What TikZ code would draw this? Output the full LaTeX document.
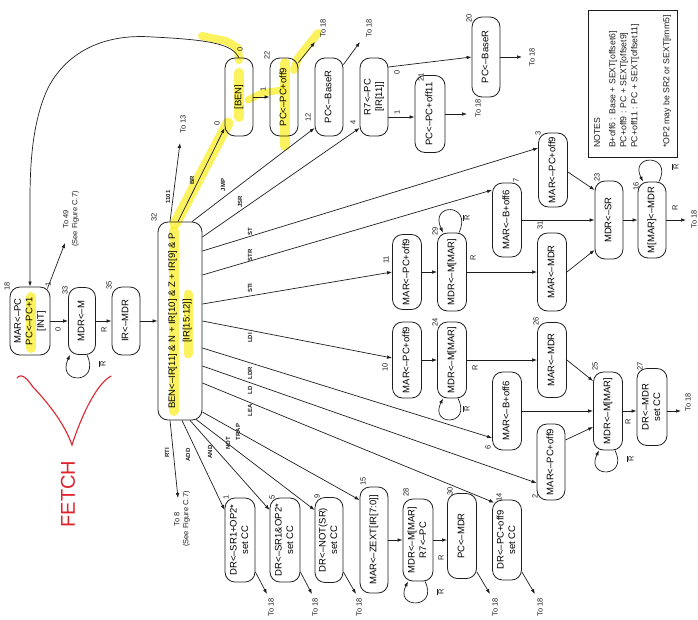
\documentclass[tikz,border=0pt]{standalone}
\usepackage{fontspec}
\setmainfont{Liberation Sans}
\usepackage{graphicx}
\usetikzlibrary{arrows.meta}
\definecolor{hilite}{RGB}{250,238,40}
\definecolor{ink}{RGB}{30,30,30}
\definecolor{pen}{RGB}{225,35,45}
% upright state text, turned a quarter turn
\newcommand{\vtxt}[1]{\rotatebox{90}{\begin{tabular}{@{}c@{}}#1\end{tabular}}}
\newcommand{\rbar}{$\overline{\mbox{R}}$}

\begin{document}
\begin{tikzpicture}[x=1pt,y=-1pt,
  st/.style={draw=ink, line width=0.8pt, rounded corners=10pt, inner sep=0pt,
             font=\fontsize{9.5}{11.5}\selectfont},
  arr/.style={draw=ink, line width=0.7pt, -{Latex[length=5pt,width=3.6pt]}},
  lbl/.style={rotate=90, inner sep=0pt, font=\fontsize{7.5}{9}\selectfont, text=ink},
  op/.style={rotate=90, inner sep=0pt, font=\fontsize{6}{6}\bfseries\selectfont, text=ink},
  note/.style={rotate=90, inner sep=0pt, font=\fontsize{8.7}{10}\selectfont, text=ink},
  hl/.style={draw=hilite, draw opacity=0.75, line width=10pt, line cap=round, line join=round},
  ]
\useasboundingbox (0,0) rectangle (698,619);

% ---------------- highlighter marks ----------------
\path[hl] (31,297) -- (31,348);
\path[hl] (174,231) -- (174,411);
\path[hl, line width=9pt] (188,294) -- (188,354);
\path[hl] (239,73) -- (239,117);
\path[hl, line width=8pt] (202,36) -- (226,41) -- (238,48) -- (239,60);
\path[hl, line width=11pt] (175,224) -- (228,123);
\path[hl, line width=7pt] (248,100) -- (262,93) -- (282,90);
\path[hl] (285,63) -- (285,146);
\path[hl, line width=8pt] (294,70) -- (298,58) -- (318,33);

% ---------------- handwritten FETCH bracket ----------------
\draw[pen, line width=1.1pt, line cap=round]
  (17,378) .. controls (22,372) and (28,380) .. (33,387)
  .. controls (50,405) and (65,425) .. (72,445)
  .. controls (80,420) and (95,385) .. (111,376);
\node[rotate=90, inner sep=0pt, text=pen, font=\fontsize{20}{20}\selectfont] (fetch) at (68,494) {FETCH};

% ---------------- states ----------------
\node[st, minimum width=40, minimum height=68] (s18) at (30,321) {\vtxt{MAR<–PC\\PC<–PC+1\\{}[INT]}};
\node[st, minimum width=27, minimum height=67] (s33) at (82,321) {\vtxt{MDR<–M}};
\node[st, minimum width=28, minimum height=68] (s35) at (126,321) {\vtxt{IR<–MDR}};
\node[st, minimum width=44, minimum height=198] (s32) at (180,321)
  {\vtxt{BEN<–IR[11] \& N + IR[10] \& Z + IR[9] \& P\\[3pt]{}[IR[15:12]]}};

\node[st, minimum width=28, minimum height=78] (sben) at (239,97) {\vtxt{{}[BEN]}};
\node[st, minimum width=28, minimum height=78] (s22) at (284,97) {\vtxt{PC<–PC+off9}};
\node[st, minimum width=28, minimum height=78] (s12) at (329,97) {\vtxt{PC<–BaseR}};
\node[st, minimum width=28, minimum height=78] (s4) at (374,97) {\vtxt{R7<–PC\\{}[IR[11]]}};
\node[st, minimum width=30, minimum height=77] (s21) at (430,114) {\vtxt{PC<–PC+off11}};
\node[st, minimum width=28, minimum height=80] (s20) at (486,57) {\vtxt{PC<–BaseR}};

\node[st, minimum width=29, minimum height=74] (s3) at (553,170) {\vtxt{MAR<–PC+off9}};
\node[st, minimum width=29, minimum height=74] (s7) at (507,220) {\vtxt{MAR<–B+off6}};
\node[st, minimum width=28, minimum height=78] (s23) at (609,220) {\vtxt{MDR<–SR}};
\node[st, minimum width=28, minimum height=76] (s16) at (652,220) {\vtxt{M[MAR]<–MDR}};
\node[st, minimum width=29, minimum height=75] (s11) at (407,272) {\vtxt{MAR<–PC+off9}};
\node[st, minimum width=29, minimum height=78] (s29) at (452,272) {\vtxt{MDR<–M[MAR]}};
\node[st, minimum width=29, minimum height=78] (s31) at (552,272) {\vtxt{MAR<–MDR}};

\node[st, minimum width=29, minimum height=76] (s10) at (407,360) {\vtxt{MAR<–PC+off9}};
\node[st, minimum width=29, minimum height=76] (s24) at (452,360) {\vtxt{MDR<–M[MAR]}};
\node[st, minimum width=29, minimum height=75] (s26) at (552,360) {\vtxt{MAR<–MDR}};
\node[st, minimum width=29, minimum height=78] (s6) at (507,411) {\vtxt{MAR<–B+off6}};
\node[st, minimum width=28, minimum height=76] (s2) at (551,462) {\vtxt{MAR<–PC+off9}};
\node[st, minimum width=29, minimum height=78] (s25) at (608,411) {\vtxt{MDR<–M[MAR]}};
\node[st, minimum width=30, minimum height=77] (s27) at (652,407) {\vtxt{DR<–MDR\\set CC}};

\node[st, minimum width=30, minimum height=84] (s1) at (240,540) {\vtxt{DR<–SR1+OP2*\\set CC}};
\node[st, minimum width=30, minimum height=84] (s5) at (285,540) {\vtxt{DR<–SR1\&OP2*\\set CC}};
\node[st, minimum width=28, minimum height=85] (s9) at (329,540) {\vtxt{DR<–NOT(SR)\\set CC}};
\node[st, minimum width=28, minimum height=106] (s15) at (374,540) {\vtxt{MAR<–ZEXT[IR[7:0]]}};
\node[st, minimum width=30, minimum height=82] (s28) at (418,540) {\vtxt{MDR<–M[MAR]\\R7<–PC}};
\node[st, minimum width=29, minimum height=85] (s30) at (462,536) {\vtxt{PC<–MDR}};
\node[st, minimum width=29, minimum height=80] (s14) at (507,540) {\vtxt{DR<–PC+off9\\set CC}};

% ---------------- state numbers ----------------
\node[lbl] (n18) at (7,286) {18};
\node[lbl] (n33) at (65,290) {33};
\node[lbl] (n35) at (109,285) {35};
\node[lbl] (n32) at (154,217) {32};
\node[lbl] (n0) at (217,123) {0};
\node[lbl] (n22) at (267,55) {22};
\node[lbl] (n12) at (308,117) {12};
\node[lbl] (n4) at (353,122) {4};
\node[lbl] (n21) at (421,77) {21};
\node[lbl] (n20) at (469,18) {20};
\node[lbl] (n3) at (538,133) {3};
\node[lbl] (n23) at (597,177) {23};
\node[lbl] (n16) at (636,186) {16};
\node[lbl] (n7) at (516,180) {7};
\node[lbl] (n31) at (540,225) {31};
\node[lbl] (n11) at (386,260) {11};
\node[lbl] (n29) at (435,231) {29};
\node[lbl] (n10) at (385,367) {10};
\node[lbl] (n24) at (435,322) {24};
\node[lbl] (n26) at (536,321) {26};
\node[lbl] (n6) at (488,447) {6};
\node[lbl] (n2) at (535,496) {2};
\node[lbl] (n25) at (595,366) {25};
\node[lbl] (n27) at (640,366) {27};
\node[lbl] (n1) at (226,497) {1};
\node[lbl] (n5) at (272,497) {5};
\node[lbl] (n9) at (317,496) {9};
\node[lbl] (n15) at (363,481) {15};
\node[lbl] (n28) at (406,492) {28};
\node[lbl] (n30) at (450,491) {30};
\node[lbl] (n14) at (499,497) {14};

% ---------------- fetch path ----------------
\coordinate (t49) at (65,243);
\draw[arr] (s18.east) -- (s33.west);
\draw[arr] (s33.east) -- (s35.west);
\draw[arr] (s35.east) -- (s32.west);
\draw[arr] ([shift={(-3,2)}]s18.north east) -- (t49);
\draw[arr] (sben.north) .. controls (232,45) and (215,40) .. (153,37)
  .. controls (100,33) and (65,55) .. (48,88)
  .. controls (33,120) and (30,160) .. (30,200) -- (s18.north);
\draw[arr] ([xshift=5]s33.south) .. controls +(14,30) and +(-14,30) .. ([xshift=-12]s33.south);

\node[lbl] (e0a) at (58,329) {0};
\node[lbl] (e1a) at (48,284) {1};
\node[lbl] (eRa) at (104,330) {R};
\node[lbl] (eRb) at (102,364) {\rbar};
\node[lbl, align=center] (to49) at (71,219) {To 49\\(See Figure C.7)};

% ---------------- decode fan-out ----------------
\coordinate (t13) at (180,143);
\coordinate (t8) at (178,498);
\draw[arr] ([xshift=-10]s32.north) -- (t13);
\draw[arr] ([xshift=-2]s32.north) -- ([yshift=-31]sben.west);
\draw[arr] ([xshift=12]s32.north) -- ([yshift=-31]s12.west);
\draw[arr] ([yshift=84]s32.east) -- ([yshift=-31]s4.west);
\draw[arr] ([yshift=70]s32.east) -- ([yshift=22]s3.west);
\draw[arr] ([yshift=46]s32.east) -- ([yshift=30]s7.west);
\draw[arr] ([yshift=17]s32.east) -- (s11.west);
\draw[arr] (s32.east) -- ([yshift=2]s10.west);
\draw[arr] ([yshift=-27]s32.east) -- ([yshift=-27]s6.west);
\draw[arr] ([yshift=-45]s32.east) -- ([yshift=-21]s2.west);
\draw[arr] ([yshift=-62]s32.east) -- ([shift={(2,3)}]s14.north west);
\draw[arr] ([yshift=-91]s32.east) -- ([yshift=40]s15.west);
\draw[arr] ([shift={(16,-1)}]s32.south) -- ([yshift=30]s9.west);
\draw[arr] ([xshift=10]s32.south) -- ([yshift=30]s5.west);
\draw[arr] ([xshift=2]s32.south) -- ([yshift=30]s1.west);
\draw[arr] ([xshift=-10]s32.south) -- (t8);

\node[lbl] (to13) at (183,124) {To 13};
\node[lbl, align=center] (to8) at (182,519) {To 8\\(See Figure C.7)};
\node[op] (o1101) at (168,197) {1101};
\node[op] (oBR) at (192,180) {BR};
\node[op] (oJMP) at (223,185) {JMP};
\node[op] (oJSR) at (240,202) {JSR};
\node[op] (oST) at (250,232) {ST};
\node[op] (oSTR) at (250,255) {STR};
\node[op] (oSTI) at (250,288) {STI};
\node[op] (oLDI) at (250,338) {LDI};
\node[op] (oLDR) at (250,373) {LDR};
\node[op] (oLD) at (250,390) {LD};
\node[op] (oLEA) at (250,410) {LEA};
\node[op] (oTRAP) at (238,432) {TRAP};
\node[op] (oNOT) at (228,443) {NOT};
\node[op] (oAND) at (210,452) {AND};
\node[op] (oADD) at (188,455) {ADD};
\node[op] (oRTI) at (167,453) {RTI};

% ---------------- control-flow states ----------------
\coordinate (t22) at (315,42);
\coordinate (t12) at (360,42);
\coordinate (t21) at (467,114);
\coordinate (t20) at (522,57);
\draw[arr] (sben.east) -- (s22.west);
\draw[arr] ([yshift=-5]s22.north east) -- (t22);
\draw[arr] ([yshift=-7]s12.north east) -- (t12);
\draw[arr] ([yshift=-20]s4.east) -- ([yshift=-20]s4.east -| s21.west);
\draw[arr] ([yshift=30]s4.east) -- (s20.west);
\draw[arr] (s21.east) -- (t21);
\draw[arr] (s20.east) -- (t20);
\node[lbl] (e0b) at (240,49) {0};
\node[lbl] (e1b) at (263,89) {1};
\node[lbl] (e0c) at (397,72) {0};
\node[lbl] (e1c) at (397,112) {1};
\node[lbl] (to22) at (323,28) {To 18};
\node[lbl] (to12) at (369,28) {To 18};
\node[lbl] (to21) at (478,108) {To 18};
\node[lbl] (to20) at (532,57) {To 18};

% ---------------- stores ----------------
\coordinate (t16) at (686,220);
\draw[arr] ([yshift=-2]s3.east) -- ([yshift=30]s23.west);
\draw[arr] (s7.east) -- (s23.west);
\draw[arr] (s31.east) -- ([yshift=-30]s23.west);
\draw[arr] (s23.east) -- (s16.west);
\draw[arr] (s16.east) -- (t16);
\draw[arr] (s11.east) -- (s29.west);
\draw[arr] (s29.east) -- (s31.west);
\draw[arr] ([xshift=7]s29.north) .. controls +(14,-30) and +(-14,-30) .. ([xshift=-9]s29.north);
\draw[arr] ([xshift=7]s16.north) .. controls +(14,-28) and +(-14,-28) .. ([xshift=-9]s16.north);
\node[lbl] (eRc) at (473,258) {R};
\node[lbl] (eRd) at (466,218) {\rbar};
\node[lbl] (eRe) at (675,208) {R};
\node[lbl] (eRf) at (675,167) {\rbar};
\node[lbl] (to16) at (694,219) {To 18};

% ---------------- loads ----------------
\coordinate (t27) at (681,411);
\draw[arr] (s10.east) -- (s24.west);
\draw[arr] (s24.east) -- (s26.west);
\draw[arr] (s26.east) -- ([yshift=30]s25.west);
\draw[arr] (s6.east) -- (s25.west);
\draw[arr] ([yshift=22]s2.east) -- ([yshift=-16]s25.west);
\draw[arr] (s25.east) -- (s25.east -| s27.west);
\draw[arr] ([yshift=-4]s27.east) -- (t27);
\draw[arr] ([xshift=6]s24.south) .. controls +(14,28) and +(-14,28) .. ([xshift=-9]s24.south);
\draw[arr] ([xshift=7]s25.south) .. controls +(14,28) and +(-14,28) .. ([xshift=-9]s25.south);
\node[lbl] (eRg) at (475,368) {R};
\node[lbl] (eRh) at (466,409) {\rbar};
\node[lbl] (eRi) at (628,422) {R};
\node[lbl] (eRj) at (630,459) {\rbar};
\node[lbl] (to27) at (688,402) {To 18};

% ---------------- operate, trap, lea ----------------
\coordinate (t1) at (267,594);
\coordinate (t5) at (312,594);
\coordinate (t9) at (356,594);
\coordinate (t30) at (490,594);
\coordinate (t14) at (535,594);
\draw[arr] ([yshift=-32]s1.east) -- (t1);
\draw[arr] ([yshift=-32]s5.east) -- (t5);
\draw[arr] ([yshift=-32]s9.east) -- (t9);
\draw[arr] ([yshift=-36]s30.east) -- (t30);
\draw[arr] ([yshift=-32]s14.east) -- (t14);
\draw[arr] (s15.east) -- (s28.west);
\draw[arr] (s28.east) -- (s28.east -| s30.west);
\draw[arr] ([xshift=7]s28.south) .. controls +(14,28) and +(-14,28) .. ([xshift=-10]s28.south);
\node[lbl] (eRk) at (441,558) {R};
\node[lbl] (eRl) at (440,592) {\rbar};
\node[lbl] (to1) at (271,607) {To 18};
\node[lbl] (to5) at (315,607) {To 18};
\node[lbl] (to9) at (359,607) {To 18};
\node[lbl] (to30) at (495,607) {To 18};
\node[lbl] (to14) at (540,607) {To 18};

% ---------------- notes ----------------
\node[draw=ink, line width=0.8pt, minimum width=89, minimum height=147, inner sep=0pt] (notes) at (632.5,83.5) {};
\node[note, anchor=west] (nt1) at (597,148) {NOTES};
\node[note, anchor=west] (nt2) at (613,148) {B+off6 : Base + SEXT[offset6]};
\node[note, anchor=west] (nt3) at (624,148) {PC+off9 : PC + SEXT[offset9]};
\node[note, anchor=west] (nt4) at (635,148) {PC+off11 : PC + SEXT[offset11]};
\node[note, anchor=west] (nt5) at (667,148) {*OP2 may be SR2 or SEXT[imm5]};
\end{tikzpicture}
\end{document}
